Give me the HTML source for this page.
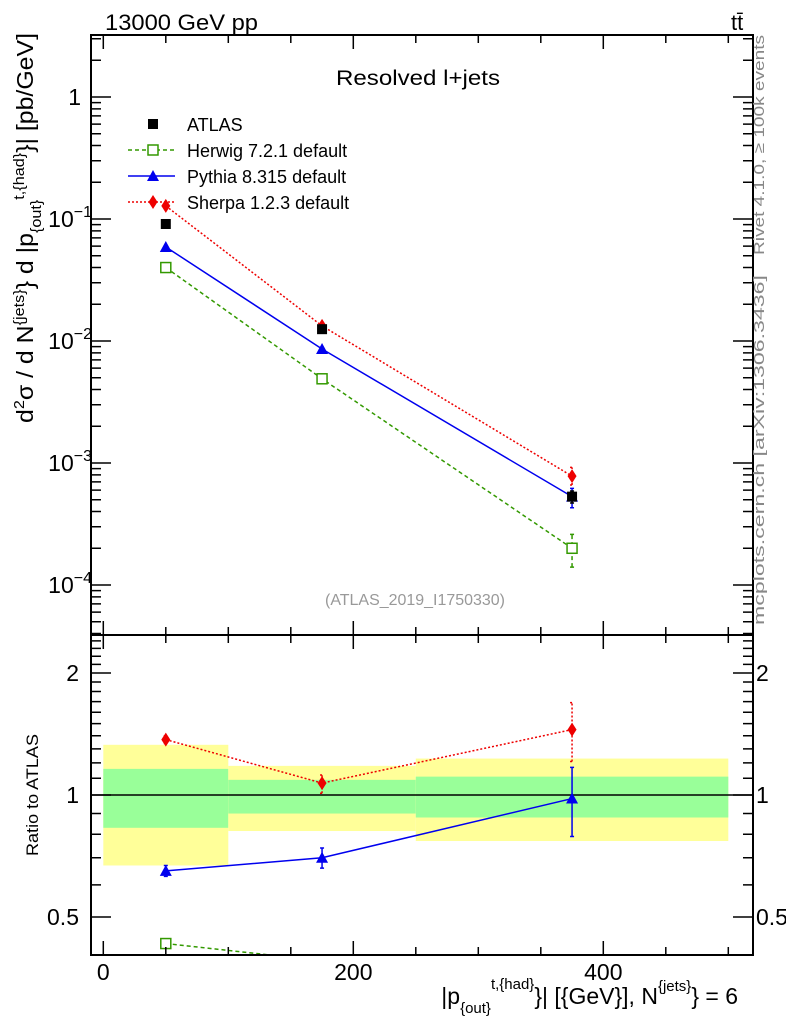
<!DOCTYPE html>
<html><head><meta charset="utf-8"><style>
body{margin:0;background:#fff}
svg text{font-family:"Liberation Sans",sans-serif}
</style></head><body>
<svg id="c" width="786" height="1024" xmlns="http://www.w3.org/2000/svg">
<g id="bands"></g>
<g id="marks"></g>
<g id="axes"></g>
<text x="105" y="30" font-size="22" textLength="153" lengthAdjust="spacingAndGlyphs">13000 GeV pp</text>
<text x="731" y="30" font-size="22">tt̄</text>
<text x="418" y="85" font-size="21" text-anchor="middle" textLength="164" lengthAdjust="spacingAndGlyphs">Resolved l+jets</text>
<text x="415" y="605" font-size="16" fill="#999" text-anchor="middle" textLength="180" lengthAdjust="spacingAndGlyphs">(ATLAS_2019_I1750330)</text>
<text transform="translate(764,145) rotate(-90)" font-size="15" fill="#888" text-anchor="middle" textLength="220" lengthAdjust="spacingAndGlyphs">Rivet 4.1.0, ≥ 100k events</text>
<text transform="translate(764,450) rotate(-90)" font-size="15" fill="#888" text-anchor="middle" textLength="350" lengthAdjust="spacingAndGlyphs">mcplots.cern.ch [arXiv:1306.3436]</text>
<text transform="translate(33,228) rotate(-90)" font-size="23" text-anchor="middle" textLength="390" lengthAdjust="spacingAndGlyphs">d<tspan font-size="15" dy="-9">2</tspan><tspan dy="9">σ / d N</tspan><tspan font-size="15" dy="-9">{jets}</tspan><tspan dy="9">} d |p</tspan><tspan font-size="15" dy="8">{out}</tspan><tspan font-size="15" dy="-17">t,{had}</tspan><tspan dy="9">}| [pb/GeV]</tspan></text>
<text transform="translate(38,795) rotate(-90)" font-size="17" text-anchor="middle" textLength="122" lengthAdjust="spacingAndGlyphs">Ratio to ATLAS</text>
<text x="738" y="1004" font-size="23" text-anchor="end">|p<tspan font-size="15" dy="9">{out}</tspan><tspan font-size="15" dy="-24">t,{had}</tspan><tspan dy="15">}| [{GeV}], N</tspan><tspan font-size="15" dy="-13">{jets}</tspan><tspan dy="13">} = 6</tspan></text>
<g id="legend"></g>
</svg>
<script>
const xCenters=[50,175,375];
const binEdges=[0,100,250,500];
const atlas=[0.091,0.0125,0.00053];
const atlasErrLo=[0.088,0.0120,0.00047];
const atlasErrHi=[0.094,0.0130,0.00059];
const herwig=[0.040,0.0049,0.00020];
const herwigLo=[0.039,0.0048,0.00014];
const herwigHi=[0.041,0.0050,0.00026];
const pythia=[0.059,0.0086,0.00053];
const pythiaLo=[0.058,0.0084,0.00043];
const pythiaHi=[0.060,0.0088,0.00062];
const sherpa=[0.128,0.0133,0.00078];
const sherpaLo=[0.125,0.0130,0.00066];
const sherpaHi=[0.131,0.0136,0.00092];
const yellowHi=[1.33,1.18,1.23];
const yellowLo=[0.67,0.815,0.77];
const greenHi=[1.16,1.09,1.11];
const greenLo=[0.83,0.90,0.88];
const herwigR=[0.43,0.39,0.38];
const pythiaR=[0.65,0.70,0.98];
const pythiaRLo=[0.63,0.66,0.79];
const pythiaRHi=[0.67,0.74,1.17];
const sherpaR=[1.37,1.07,1.45];
const sherpaRLo=[1.34,1.01,1.21];
const sherpaRHi=[1.40,1.12,1.69];
const xTicks=[0,200,400];
const mainTicks=[1,0.1,0.01,0.001,0.0001];
const mainTickLabels=[["1",""],["10","−1"],["10","−2"],["10","−3"],["10","−4"]];
const ratioTicks=[2,1,0.5];
const ratioTickLabels=["2","1","0.5"];

const L=91,R=753,T=35,D=635,B=955;
const X=v=>103.3+v*1.25;
const Y=v=>97-Math.log10(v)*122;
const YR=v=>795-Math.log2(v)*122;
const NS="http://www.w3.org/2000/svg";
function mk(p,tag,at){const e=document.createElementNS(NS,tag);for(const k in at)e.setAttribute(k,at[k]);p.appendChild(e);return e;}
const bands=document.getElementById('bands'),marks=document.getElementById('marks'),axes=document.getElementById('axes'),leg=document.getElementById('legend');

for(let i=0;i<3;i++){
 let r=mk(bands,'rect',{x:X(binEdges[i]),y:YR(yellowHi[i]),width:X(binEdges[i+1])-X(binEdges[i]),height:YR(yellowLo[i])-YR(yellowHi[i]),fill:'#ffff99'});
 
 
 let g=mk(bands,'rect',{x:X(binEdges[i]),y:YR(greenHi[i]),width:X(binEdges[i+1])-X(binEdges[i]),height:YR(greenLo[i])-YR(greenHi[i]),fill:'#99ff99'});
 
 
}
let one=mk(bands,'line',{x1:L,x2:R,y1:YR(1),y2:YR(1),stroke:'#000','stroke-width':1.5});



const defs=mk(document.getElementById('c'),'defs',{});
const cp1=mk(defs,'clipPath',{id:'cm'});mk(cp1,'rect',{x:L,y:T,width:R-L,height:D-T});
const cp2=mk(defs,'clipPath',{id:'cr'});mk(cp2,'rect',{x:L,y:D,width:R-L,height:B-D});
const gm=mk(marks,'g',{'clip-path':'url(#cm)'});
const gr=mk(marks,'g',{'clip-path':'url(#cr)'});

function marker(p,type,x,y,col){
 let e;
 if(type==='sq') e=mk(p,'rect',{x:x-5,y:y-5,width:10,height:10,fill:'#000'});
 else if(type==='osq') e=mk(p,'rect',{x:x-5,y:y-5,width:10,height:10,fill:'#fff',stroke:col,'stroke-width':1.5});
 else if(type==='tri') e=mk(p,'path',{d:`M${x},${y-6}L${x+6},${y+5}L${x-6},${y+5}Z`,fill:col});
 else e=mk(p,'path',{d:`M${x},${y-7}L${x+4.5},${y}L${x},${y+7}L${x-4.5},${y}Z`,fill:col});
 return e;
}
function series(p,name,vals,lo,hi,yf,col,dash,type,line){
 if(line){
  let pl=mk(p,'polyline',{points:vals.map((v,i)=>X(xCenters[i])+','+yf(v)).join(' '),fill:'none',stroke:col,'stroke-width':1.5,'stroke-dasharray':dash});
  
  
 }
 vals.forEach((v,i)=>{
  const x=X(xCenters[i]);
  let eb=mk(p,'path',{d:`M${x},${yf(lo[i])}V${yf(hi[i])}M${x-2},${yf(lo[i])}h4M${x-2},${yf(hi[i])}h4`,stroke:col,'stroke-width':1.5,'stroke-dasharray':dash,fill:'none'});
  
  
  let m=marker(p,type,x,yf(v),col);
  
  
 });
}
series(gm,'herwig',herwig,herwigLo,herwigHi,Y,'#339900','4,3','osq',true);
series(gm,'pythia',pythia,pythiaLo,pythiaHi,Y,'#0000ee','','tri',true);
series(gm,'sherpa',sherpa,sherpaLo,sherpaHi,Y,'#ee0000','2,2','dia',true);
series(gm,'atlas',atlas,atlasErrLo,atlasErrHi,Y,'#000','','sq',false);
series(gr,'herwig-ratio',herwigR,herwigR,herwigR,YR,'#339900','4,3','osq',true);
series(gr,'pythia-ratio',pythiaR,pythiaRLo,pythiaRHi,YR,'#0000ee','','tri',true);
series(gr,'sherpa-ratio',sherpaR,sherpaRLo,sherpaRHi,YR,'#ee0000','2,2','dia',true);

[[T,D],[D,B]].forEach(([a,b],k)=>{
 let f=mk(axes,'rect',{x:L,y:a,width:R-L,height:b-a,fill:'none',stroke:'#000','stroke-width':2});
 
 
});
let tp='';
for(let v=0;v<=500;v+=50){const x=X(v),len=v%200===0?14:8;
 tp+=`M${x},${D}v${-len}M${x},${T}v${len}M${x},${B}v${-len}M${x},${D}v${len}`;}
for(let e=-5;e<=0;e++)for(let m=1;m<10;m++){const v=m*Math.pow(10,e);const y=Y(v);if(y<T||y>D)continue;const len=m===1?20:10;tp+=`M${L},${y}h${len}M${R},${y}h${-len}`;}
for(let v=0.4;v<2.5;v+=0.1){const y=YR(v);if(y<D||y>B)continue;const maj=Math.abs(v-0.5)<1e-6||Math.abs(v-1)<1e-6||Math.abs(v-2)<1e-6;const len=maj?20:10;tp+=`M${L},${y}h${len}M${R},${y}h${-len}`;}
let tk=mk(axes,'path',{d:tp,stroke:'#000','stroke-width':1.5,fill:'none'});


xTicks.forEach(v=>{let t=mk(axes,'text',{x:X(v),y:980,'font-size':23,'text-anchor':'middle'});t.textContent=v;
 
 });
mainTicks.forEach((v,i)=>{
 const lb=mainTickLabels[i];
 let t=mk(axes,'text',{x:lb[1]?92:81,y:Y(v)+8,'font-size':23,'text-anchor':'end'});
 
 
 if(lb[1]){t.innerHTML=`${lb[0]}<tspan font-size="16" dy="-10">${lb[1]}</tspan>`;}else t.textContent=lb[0];});
ratioTicks.forEach((v,i)=>{[[79,'end'],[756,'start']].forEach(([x,a])=>{let t=mk(axes,'text',{x:x,y:YR(v)+8,'font-size':23,'text-anchor':a});t.textContent=ratioTickLabels[i];
 
 });});

const legItems=[['ATLAS','sq','#000','',false],['Herwig 7.2.1 default','osq','#339900','4,3',true],['Pythia 8.315 default','tri','#0000ee','',true],['Sherpa 1.2.3 default','dia','#ee0000','2,2',true]];
legItems.forEach((it,i)=>{const y=124+i*26;
 const g=mk(leg,'g',{});
 
 
 if(it[4])mk(g,'line',{x1:128,x2:175,y1:y,y2:y,stroke:it[2],'stroke-width':1.5,'stroke-dasharray':it[3]});
 marker(g,it[1],153,y,it[2]);
 let t=mk(g,'text',{x:187,y:y+7,'font-size':18});t.textContent=it[0];});
</script>
</body></html>
